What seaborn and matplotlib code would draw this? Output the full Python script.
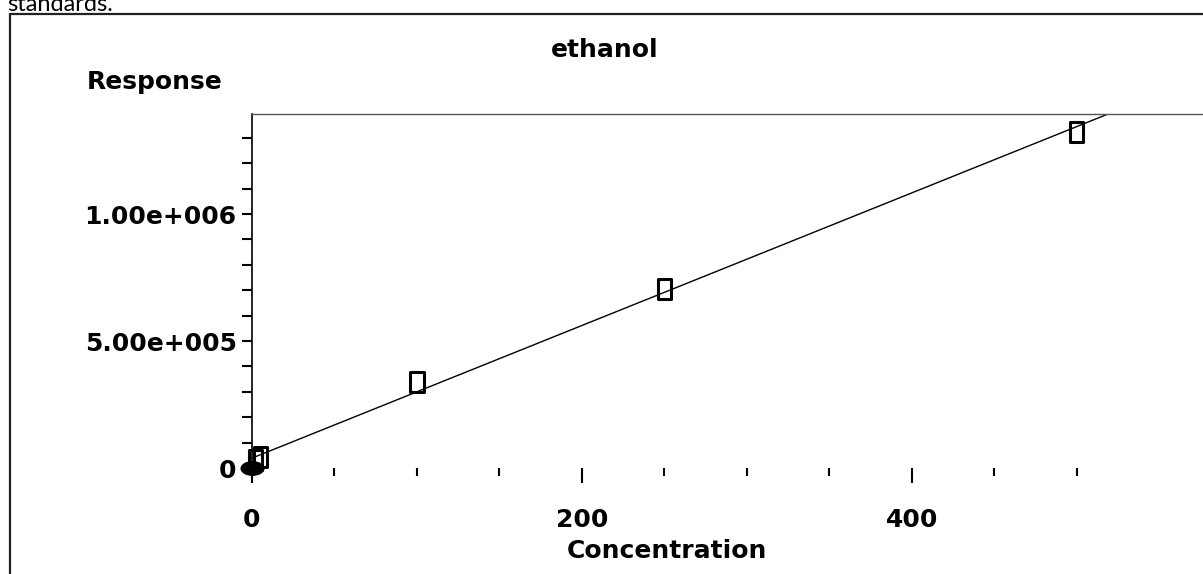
import numpy as np
import pandas as pd
import matplotlib
matplotlib.use("Agg")
import matplotlib.pyplot as plt
from matplotlib.path import Path
from matplotlib.lines import Line2D
import seaborn as sns

# ---- data ----
conc = [2, 5, 100, 250, 500]
response = [30000, 45000, 339000, 705000, 1323000]
origin_conc = [0]
origin_resp = [0]
fit_slope = 2611.0
fit_intercept = 39000.0
x_major = [0, 200, 400]
x_labels = ["0", "200", "400"]
y_major = [0, 500000, 1000000]
y_labels = ["0", "5.00e+005", "1.00e+006"]
title = "ethanol"
xlabel = "Concentration"
ylabel = "Response"

sns.set_style("white")
plt.rcParams["font.family"] = ["DejaVu Sans"]
plt.rcParams["text.color"] = "black"
plt.rcParams["xtick.color"] = "black"
plt.rcParams["ytick.color"] = "black"
plt.rcParams["xtick.labelcolor"] = "black"
plt.rcParams["ytick.labelcolor"] = "black"

W, H = 1203, 574
fig = plt.figure(figsize=(W / 100, H / 100), dpi=100)
ax = fig.add_axes([252 / W, 106 / H, 1 - 252 / W, 354 / H])

x_max = 576.5
y_max = 1.394e6

# fitted calibration line
fit_x = np.array([0.0, x_max])
fit_df = pd.DataFrame({"x": fit_x, "y": fit_intercept + fit_slope * fit_x})
sns.lineplot(data=fit_df, x="x", y="y", color="black", linewidth=1.0, ax=ax)

# open rectangle markers
rect = Path([(-0.33, -0.5), (0.33, -0.5), (0.33, 0.5), (-0.33, 0.5), (-0.33, -0.5)],
            [Path.MOVETO, Path.LINETO, Path.LINETO, Path.LINETO, Path.CLOSEPOLY])
pts = pd.DataFrame({"c": conc, "r": response})
sns.scatterplot(data=pts, x="c", y="r", marker=rect, s=205, facecolor="none",
                edgecolor="black", linewidth=2.2, ax=ax, clip_on=False, zorder=3)

# filled ellipse at origin
circ = Path.unit_circle()
ell = Path(circ.vertices * np.array([1.0, 0.62]), circ.codes)
org = pd.DataFrame({"c": origin_conc, "r": origin_resp})
sns.scatterplot(data=org, x="c", y="r", marker=ell, s=300, color="black",
                edgecolor="black", linewidth=0, ax=ax, clip_on=False, zorder=4)

ax.set_xlim(0, x_max)
ax.set_ylim(0, y_max)

ax.set_xticks(x_major)
ax.set_xticklabels(x_labels)
ax.set_xticks([v for v in range(50, 501, 50) if v % 200 != 0], minor=True)
ax.set_yticks(y_major)
ax.set_yticklabels(y_labels)
ax.set_yticks([v for v in range(100000, 1300001, 100000) if v % 500000 != 0], minor=True)

ax.tick_params(axis="x", which="major", direction="out", length=11, width=1.5,
               color="black", pad=18, labelsize=18, bottom=True)
ax.tick_params(axis="x", which="minor", direction="out", length=5.5, width=1.5,
               color="black", bottom=True)
ax.tick_params(axis="y", which="both", direction="out", length=7.5, width=1.5,
               color="black", pad=3.5, labelsize=18, left=True)
for lab in ax.get_xticklabels() + ax.get_yticklabels():
    lab.set_fontweight("bold")
    lab.set_color("black")

ax.spines["bottom"].set_visible(False)
ax.spines["right"].set_visible(False)
ax.spines["left"].set_color("black")
ax.spines["left"].set_linewidth(1.2)
ax.spines["top"].set_color("#555555")
ax.spines["top"].set_linewidth(1.0)
ax.set_xlabel("")
ax.set_ylabel("")

# texts
fig.text(605 / W, 1 - 50 / H, title, ha="center", va="center", fontsize=18,
         fontweight="bold", color="black")
fig.text(155 / W, 1 - 82 / H, ylabel, ha="center", va="center", fontsize=18,
         fontweight="bold", color="black")
fig.text(667 / W, 1 - 551 / H, xlabel, ha="center", va="center", fontsize=18,
         fontweight="bold", color="black")
fig.text(7 / W, 1 - 11 / H, "standards.", ha="left", va="baseline", fontsize=17,
         family=["Lato", "DejaVu Sans"], color="black")

# outer frame of the pasted chart
fig.add_artist(Line2D([10 / W, 10 / W], [-0.02, 1 - 14 / H], transform=fig.transFigure,
                      color="#222222", linewidth=1.6))
fig.add_artist(Line2D([10 / W, 1.02], [1 - 14 / H, 1 - 14 / H], transform=fig.transFigure,
                      color="#222222", linewidth=1.6))

fig.savefig("out.png", dpi=100)
